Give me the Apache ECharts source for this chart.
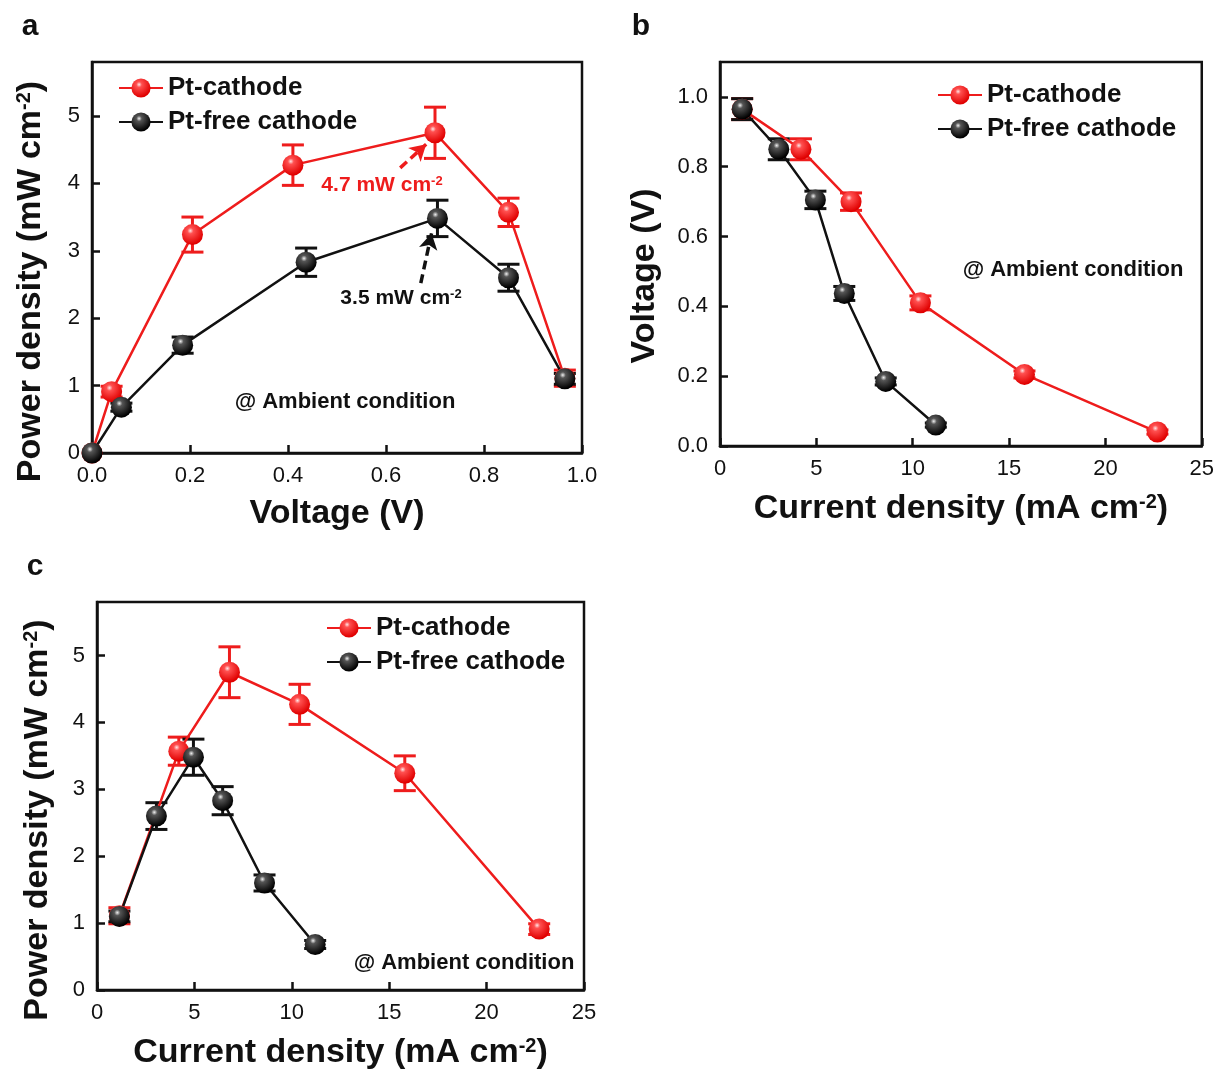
<!DOCTYPE html>
<html>
<head>
<meta charset="utf-8">
<script src="https://cdn.jsdelivr.net/npm/echarts@6/dist/echarts.min.js"></script>
<style>
  html, body { margin: 0; padding: 0; background: #fff; }
  #chart { width: 1217px; height: 1072px; }
</style>
</head>
<body>
<div id="chart"></div>
<script>
// values
const ptCurrent = [1.15, 4.2, 6.8, 10.4, 15.8, 22.7]
const ptVoltage = [0.965, 0.85, 0.70, 0.41, 0.205, 0.04]
const ptVoltageErr = [0.03, 0.03, 0.025, 0.02, 0.01, 0.006]
const ptPower = [1.11, 3.57, 4.75, 4.27, 3.24, 0.91]
const ptPowerErr = [0.12, 0.21, 0.38, 0.3, 0.26, 0.08]

const freeCurrent = [1.15, 3.05, 4.95, 6.45, 8.6, 11.2]
const freeVoltage = [0.965, 0.85, 0.705, 0.437, 0.185, 0.06]
const freeVoltageErr = [0.03, 0.03, 0.025, 0.02, 0.01, 0.006]
const freePower = [1.1, 2.6, 3.48, 2.83, 1.6, 0.68]
const freePowerErr = [0.08, 0.2, 0.27, 0.21, 0.12, 0.06]

// both curves in panel a start from the origin
const originVoltage = 0
const originPower = 0

const voltageTicks = [0, 0.2, 0.4, 0.6, 0.8, 1.0]
const powerTicks = [0, 1, 2, 3, 4, 5]
const currentTicks = [0, 5, 10, 15, 20, 25]

const RED = '#ee1c1c'
const BLACK = '#111111'
const FONT = 'Liberation Sans, Arial, sans-serif'

const redBall = new echarts.graphic.RadialGradient(0.4, 0.32, 0.65, [
  { offset: 0, color: '#ffe6e6' },
  { offset: 0.22, color: '#ff5050' },
  { offset: 1, color: '#e00000' },
])
const blackBall = new echarts.graphic.RadialGradient(0.4, 0.32, 0.65, [
  { offset: 0, color: '#f0f0f0' },
  { offset: 0.22, color: '#555' },
  { offset: 1, color: '#000' },
])

const zip = (xs, ys) => xs.map((x, i) => [x, ys[i]])
const zip3 = (xs, ys, es) => xs.map((x, i) => [x, ys[i], es[i]])

// shift: moves a rotated y-axis name down the page by that many px
const axisBase = (ticks, fmt, shift) => ({
  type: 'value',
  axisLine: { show: true, onZero: false, lineStyle: { color: BLACK, width: 2.5 } },
  axisTick: { show: true, inside: true, length: 8, customValues: ticks, lineStyle: { color: BLACK, width: 2.5 } },
  axisLabel: { customValues: ticks, color: BLACK, fontSize: 22, fontFamily: FONT, margin: 12, formatter: fmt },
  splitLine: { show: false },
  nameLocation: 'middle',
  nameTextStyle: {
    color: BLACK, fontSize: 34, fontWeight: 'bold', fontFamily: FONT,
    padding: [0, (shift || 0) * 2, 0, 0],
    rich: {
      t: { fontSize: 34, fontWeight: 'bold', fontFamily: FONT, color: BLACK },
      s: { fontSize: 20, fontWeight: 'bold', fontFamily: FONT, color: BLACK, verticalAlign: 'top' },
    },
  },
})

const errorBars = (data, color, xi, yi) => ({
  type: 'custom',
  xAxisIndex: xi,
  yAxisIndex: yi,
  data,
  encode: { x: 0, y: 1 },
  silent: true,
  renderItem: (params, api) => {
    const x = api.value(0), y = api.value(1), e = api.value(2)
    const hi = api.coord([x, y + e])
    const lo = api.coord([x, y - e])
    const w = 11
    const style = { stroke: color, lineWidth: 3 }
    return {
      type: 'group',
      children: [
        { type: 'line', shape: { x1: hi[0], y1: hi[1], x2: lo[0], y2: lo[1] }, style },
        { type: 'line', shape: { x1: hi[0] - w, y1: hi[1], x2: hi[0] + w, y2: hi[1] }, style },
        { type: 'line', shape: { x1: lo[0] - w, y1: lo[1], x2: lo[0] + w, y2: lo[1] }, style },
      ],
    }
  },
})

const curve = (name, data, color, ball, xi, yi, extra) => Object.assign({
  name,
  type: 'line',
  xAxisIndex: xi,
  yAxisIndex: yi,
  data,
  symbol: 'circle',
  symbolSize: 21,
  lineStyle: { color, width: 2.5 },
  itemStyle: { color: ball, borderWidth: 0 },
  animation: false,
}, extra || {})

const arrow = (from, to, color) => ({
  silent: true,
  symbol: ['none', 'arrow'],
  symbolSize: [14, 16],
  label: { show: false },
  lineStyle: { color, width: 3.5, type: [9, 5] },
  data: [[{ coord: from }, { coord: to }]],
})

const sup = (main, s) => `{t|${main}}{s|${s}}`
const legendText = { fontSize: 26, fontWeight: 'bold', fontFamily: FONT, color: BLACK }
const legendBase = {
  orient: 'vertical',
  itemWidth: 44,
  itemHeight: 24,
  itemGap: 8,
  data: ['Pt-cathode', 'Pt-free cathode'],
  textStyle: legendText,
  selectedMode: false,
}

const annot = (x, y, text, color, size) => ({
  type: 'text',
  x, y,
  style: {
    text, fill: color || BLACK, font: `bold ${size || 22}px ${FONT}`,
    align: 'center', verticalAlign: 'middle',
  },
})
const supText = (x, y, main, s, color) => ({
  type: 'text',
  x, y,
  style: {
    text: sup(main, s), align: 'center', verticalAlign: 'middle',
    rich: {
      t: { fontSize: 21, fontWeight: 'bold', fontFamily: FONT, fill: color },
      s: { fontSize: 13, fontWeight: 'bold', fontFamily: FONT, fill: color, verticalAlign: 'top' },
    },
  },
})

const chart = echarts.init(document.getElementById('chart'))
chart.setOption({
  backgroundColor: '#fff',
  animation: false,
  grid: [
    { left: 92, top: 62, width: 490, height: 391, show: true, borderColor: BLACK, borderWidth: 2.5 },
    { left: 720, top: 62, width: 483, height: 384, show: true, borderColor: BLACK, borderWidth: 2.5 },
    { left: 97, top: 602, width: 487, height: 388, show: true, borderColor: BLACK, borderWidth: 2.5 },
  ],
  xAxis: [
    Object.assign(axisBase(voltageTicks, (v) => v.toFixed(1)), {
      gridIndex: 0, min: 0, max: 1, name: 'Voltage (V)', nameGap: 44,
    }),
    Object.assign(axisBase(currentTicks, (v) => String(v)), {
      gridIndex: 1, min: 0, max: 25, name: sup('Current density (mA cm', '-2') + '{t|)}', nameGap: 46,
    }),
    Object.assign(axisBase(currentTicks, (v) => String(v)), {
      gridIndex: 2, min: 0, max: 25, name: sup('Current density (mA cm', '-2') + '{t|)}', nameGap: 46,
    }),
  ],
  yAxis: [
    Object.assign(axisBase(powerTicks, (v) => String(v), 24), {
      gridIndex: 0, min: 0, max: 5.8, name: sup('Power density (mW cm', '-2') + '{t|)}', nameGap: 44,
    }),
    Object.assign(axisBase(voltageTicks, (v) => v.toFixed(1), 22), {
      gridIndex: 1, min: 0, max: 1.1, name: 'Voltage (V)', nameGap: 58,
    }),
    Object.assign(axisBase(powerTicks, (v) => String(v), 24), {
      gridIndex: 2, min: 0, max: 5.8, name: sup('Power density (mW cm', '-2') + '{t|)}', nameGap: 42,
    }),
  ],
  legend: [
    Object.assign({ left: 113, top: 70 }, legendBase),
    Object.assign({ left: 932, top: 77 }, legendBase),
    Object.assign({ left: 321, top: 610 }, legendBase),
  ],
  graphic: [
    annot(30, 27, 'a', BLACK, 30),
    annot(641, 27, 'b', BLACK, 30),
    annot(35, 567, 'c', BLACK, 30),
    annot(345, 402, '@ Ambient condition', BLACK, 22),
    annot(1073, 270, '@ Ambient condition', BLACK, 22),
    annot(464, 963, '@ Ambient condition', BLACK, 22),
    supText(382, 185, '4.7 mW cm', '-2', RED),
    supText(401, 298, '3.5 mW cm', '-2', BLACK),
  ],
  series: [
    // panel a: power vs voltage
    errorBars(zip3(ptVoltage, ptPower, ptPowerErr), RED, 0, 0),
    curve('Pt-cathode', zip(ptVoltage, ptPower).concat([[originVoltage, originPower]]), RED, redBall, 0, 0, {
      markLine: arrow([0.629, 4.23], [0.682, 4.58], RED),
    }),
    errorBars(zip3(freeVoltage, freePower, freePowerErr), BLACK, 0, 0),
    curve('Pt-free cathode', zip(freeVoltage, freePower).concat([[originVoltage, originPower]]), BLACK, blackBall, 0, 0, {
      markLine: arrow([0.671, 2.52], [0.693, 3.26], BLACK),
    }),
    // panel b: voltage vs current density
    errorBars(zip3(ptCurrent, ptVoltage, ptVoltageErr), RED, 1, 1),
    curve('Pt-cathode', zip(ptCurrent, ptVoltage), RED, redBall, 1, 1),
    errorBars(zip3(freeCurrent, freeVoltage, freeVoltageErr), BLACK, 1, 1),
    curve('Pt-free cathode', zip(freeCurrent, freeVoltage), BLACK, blackBall, 1, 1),
    // panel c: power vs current density
    errorBars(zip3(ptCurrent, ptPower, ptPowerErr), RED, 2, 2),
    curve('Pt-cathode', zip(ptCurrent, ptPower), RED, redBall, 2, 2),
    errorBars(zip3(freeCurrent, freePower, freePowerErr), BLACK, 2, 2),
    curve('Pt-free cathode', zip(freeCurrent, freePower), BLACK, blackBall, 2, 2),
  ],
})
</script>
</body>
</html>
